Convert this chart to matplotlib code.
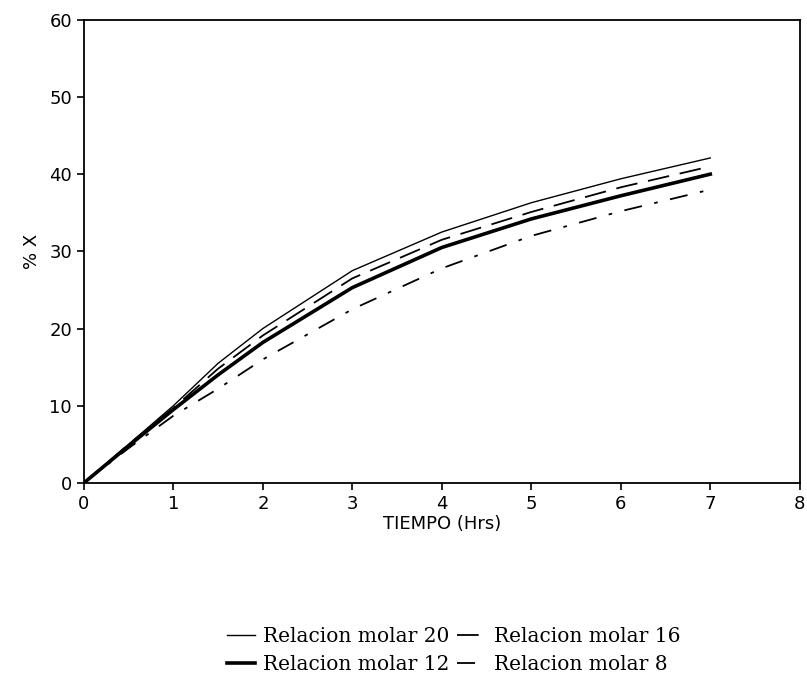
import matplotlib
matplotlib.use("Agg")
import matplotlib.pyplot as plt

tiempo = [0, 0.5, 1, 1.5, 2, 3, 4, 5, 6, 7]
rel20 = [0, 5.0, 10.0, 15.5, 20.0, 27.5, 32.5, 36.3, 39.4, 42.1]
rel16 = [0, 5.0, 9.7, 14.8, 19.1, 26.5, 31.5, 35.1, 38.3, 41.0]
rel12 = [0, 4.8, 9.5, 14.0, 18.2, 25.3, 30.5, 34.2, 37.2, 40.0]
rel8 = [0, 4.5, 8.7, 12.2, 16.0, 22.5, 27.8, 32.0, 35.2, 38.0]

xticks = [0, 1, 2, 3, 4, 5, 6, 7, 8]
yticks = [0, 10, 20, 30, 40, 50, 60]

fig = plt.figure(figsize=(8.07, 6.83), dpi=100)
ax = fig.add_axes([0.104, 0.293, 0.887, 0.678])

l20, = ax.plot(tiempo, rel20, color="black", lw=1.0, label="Relacion molar 20")
l16, = ax.plot(tiempo, rel16, color="black", lw=1.3, dashes=(12, 6), label="Relacion molar 16")
l12, = ax.plot(tiempo, rel12, color="black", lw=2.6, label="Relacion molar 12")
l8, = ax.plot(tiempo, rel8, color="black", lw=1.3, dashes=(10, 7, 2, 7), label="Relacion molar 8")

ax.set_xlim(0, 8)
ax.set_ylim(0, 60)
ax.set_xticks(xticks)
ax.set_yticks(yticks)
ax.tick_params(direction="out", length=5, width=1.2, labelsize=13, colors="black")
for s in ax.spines.values():
    s.set_linewidth(1.3)
ax.set_xlabel("TIEMPO (Hrs)", fontsize=13, labelpad=2)
ax.set_ylabel("% X", fontsize=13, labelpad=6)

fig.legend([l20, l12, l16, l8],
           ["Relacion molar 20", "Relacion molar 12", "Relacion molar 16", "Relacion molar 8"],
           ncol=2, loc="center", bbox_to_anchor=(0.562, 0.047), frameon=False,
           prop={"family": "DejaVu Serif", "size": 14.5}, handlelength=1.4,
           handletextpad=0.4, columnspacing=0.4, labelspacing=0.45)

fig.savefig("out.png", dpi=100)
